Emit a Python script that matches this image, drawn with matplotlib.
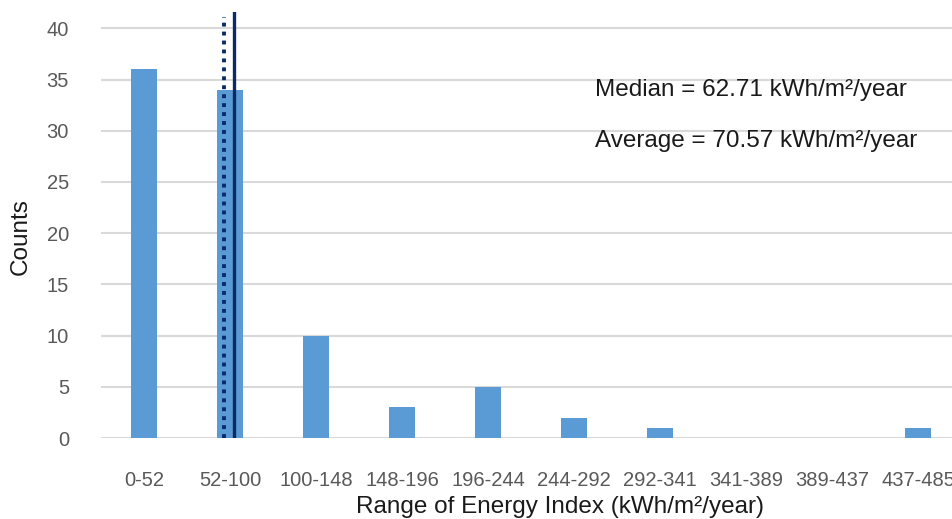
import matplotlib
matplotlib.use("Agg")
import matplotlib.pyplot as plt

categories = ["0-52", "52-100", "100-148", "148-196", "196-244",
              "244-292", "292-341", "341-389", "389-437", "437-485"]
counts = [36, 34, 10, 3, 5, 2, 1, 0, 0, 1]
median_value = 62.71
average_value = 70.57
y_ticks = [0, 5, 10, 15, 20, 25, 30, 35, 40]

plt.rcParams["font.family"] = ["Liberation Sans", "DejaVu Sans"]

W, H = 953, 519
fig = plt.figure(figsize=(W / 100, H / 100), dpi=100)
ax = fig.add_axes([101 / W, (H - 438) / H, 852 / W, (438 - 12) / H])

x = list(range(len(categories)))
ax.bar(x, counts, width=0.31, color="#5B9BD5", zorder=2)


def value_to_pos(v):
    # place a kWh value on the category axis around the 52-100 bin
    return 1 + (v - 67.4) / 67.0


ax.axvline(value_to_pos(median_value), ymin=0, ymax=41.1 / 41.6,
           color="#0B2A66", lw=2.8, linestyle=(0, (1, 1.3)), zorder=3)
ax.axvline(value_to_pos(average_value), ymin=0, ymax=1.0,
           color="#0B2A66", lw=2.4, zorder=3)

ax.set_xlim(-0.5, -0.5 + 852 / 86)
ax.set_ylim(0, 41.6)
ax.set_yticks(y_ticks)
ax.set_xticks(x)
ax.set_xticklabels(categories)
ax.yaxis.grid(True, color="#D9D9D9", lw=1.5, zorder=0)
ax.set_axisbelow(True)
for s in ax.spines.values():
    s.set_visible(False)
ax.tick_params(axis="both", length=0, labelsize=14.5, colors="#595959")
ax.tick_params(axis="x", pad=24)
ax.tick_params(axis="y", pad=23)

fig.text(560 / W, 1 - 507 / H, "Range of Energy Index (kWh/m²/year)",
         fontsize=17.5, color="#1a1a1a", ha="center", va="center")
fig.text(21 / W, 1 - 237 / H, "Counts", rotation=90,
         fontsize=17.5, color="#1a1a1a", ha="center", va="center")

fig.text(595 / W, 1 - 90 / H, f"Median = {median_value:.2f} kWh/m²/year",
         fontsize=17.5, va="center", ha="left", color="#1a1a1a")
fig.text(595 / W, 1 - 141 / H, f"Average = {average_value:.2f} kWh/m²/year",
         fontsize=17.5, va="center", ha="left", color="#1a1a1a")

fig.savefig("out.png", dpi=100)
